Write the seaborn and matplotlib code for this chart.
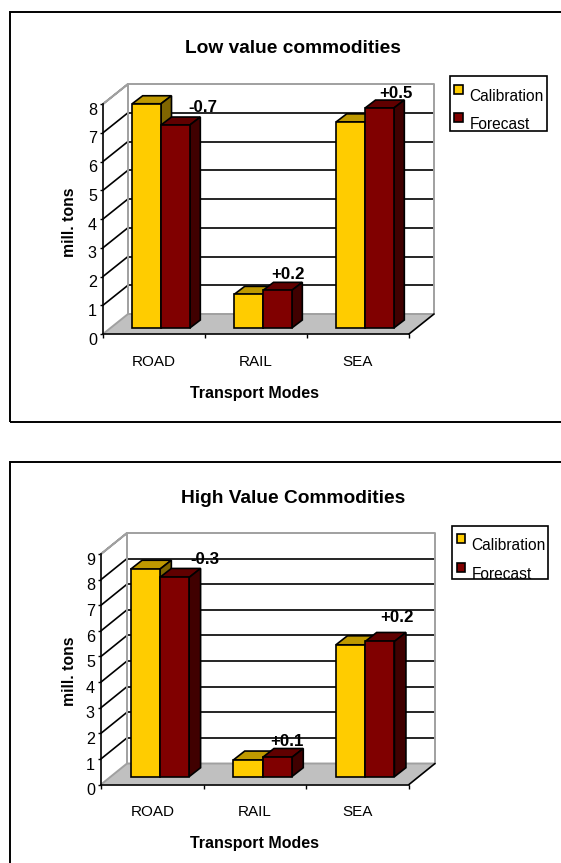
import numpy as np
import pandas as pd
import matplotlib
matplotlib.use("Agg")
import matplotlib.pyplot as plt
import seaborn as sns
from matplotlib.patches import Patch, Polygon, Rectangle
from matplotlib.legend_handler import HandlerPatch
from matplotlib.transforms import Affine2D, IdentityTransform

modes = ["ROAD", "RAIL", "SEA"]
series_names = ["Calibration", "Forecast"]

low_calibration = [7.8, 1.17, 7.17]
low_forecast = [7.06, 1.31, 7.65]
low_changes = ["-0.7", "+0.2", "+0.5"]

high_calibration = [8.1, 0.65, 5.15]
high_forecast = [7.78, 0.75, 5.28]
high_changes = ["-0.3", "+0.1", "+0.2"]

COLORS = ["#FFCC00", "#800000"]
TOPS = ["#BF9900", "#600000"]
SIDES = ["#806600", "#400000"]
GRAY = "#A0A0A0"
FLOOR = "#C0C0C0"
W, H = 561, 863
LW = 1.2

sns.set_theme(style="ticks")
plt.rcParams["font.family"] = ["Liberation Sans", "DejaVu Sans"]
plt.rcParams["text.color"] = "black"
plt.rcParams["xtick.color"] = "black"
plt.rcParams["ytick.color"] = "black"
plt.rcParams["axes.labelcolor"] = "black"

fig = plt.figure(figsize=(W / 100, H / 100), dpi=100, facecolor="white")
PX = IdentityTransform()


def disp(x, y):
    return (x, H - y)


def legend_square(legend, orig_handle, xdescent, ydescent, width, height, fontsize):
    return Rectangle((-xdescent, -ydescent + 4.9), width, width)


def chart(title, calibration, forecast, changes, geo):
    left, right, y0, ymax_px, ymax = geo["left"], geo["right"], geo["y0"], geo["ytop"], geo["ymax"]
    ax = fig.add_axes([left / W, 1 - y0 / H, (right - left) / W, (y0 - ymax_px) / H])
    df = pd.DataFrame({
        "mode": modes * 2,
        "tons": list(calibration) + list(forecast),
        "series": [series_names[0]] * 3 + [series_names[1]] * 3,
    })
    sns.barplot(data=df, x="mode", y="tons", hue="series", palette=COLORS, hue_order=series_names,
                order=modes, width=geo["barw"], gap=0, saturation=1, errorbar=None,
                edgecolor="black", linewidth=LW, legend=False, ax=ax)
    ax.set_xlim(-0.5, 2.5)
    ax.set_ylim(0, ymax)
    xu = 3 / (right - left)
    yu = ymax / (y0 - ymax_px)
    ax.patch.set_alpha(0)

    # walls and floor
    wdx, wdy = geo["depth"][0] * xu, geo["depth"][1] * yu
    ax.add_patch(Polygon([(-0.5, 0), (-0.5 + wdx, wdy), (2.5 + wdx, wdy), (2.5, 0)], closed=True,
                         facecolor=FLOOR, edgecolor="none", zorder=0.5, clip_on=False))
    for v in range(1, ymax):
        ax.plot([-0.5 + wdx, 2.5 + wdx], [v + wdy, v + wdy], color="black", lw=LW, zorder=1, clip_on=False, solid_capstyle="butt")
        ax.plot([-0.5, -0.5 + wdx], [v, v + wdy], color="black", lw=LW, zorder=1, clip_on=False)
    ax.plot([-0.5, -0.5 + wdx, -0.5 + wdx, 2.5 + wdx, 2.5 + wdx, -0.5 + wdx, -0.5],
            [ymax, ymax + wdy, wdy, wdy, ymax + wdy, ymax + wdy, ymax], color=GRAY, lw=1.4, zorder=1.2, clip_on=False)
    ax.plot([-0.5, -0.5 + wdx], [0, wdy], color=GRAY, lw=1.4, zorder=1.2, clip_on=False)
    ax.plot([2.5, 2.5 + wdx], [0, wdy], color="black", lw=LW, zorder=1.3, clip_on=False)

    # bar solids
    bdx, bdy = geo["bar_depth"][0] * xu, geo["bar_depth"][1] * yu
    sx, sy = geo["shift"][0] * xu, geo["shift"][1] * yu
    bars = [p for p in ax.patches if isinstance(p, Rectangle)]
    for i, p in enumerate(bars):
        k = i // 3
        p.set_x(p.get_x() + sx)
        p.set_y(p.get_y() + sy)
        x0, x1 = p.get_x(), p.get_x() + p.get_width()
        yb, yt = p.get_y(), p.get_y() + p.get_height()
        p.set_zorder(3.1 + k * 0.2)
        p.set_clip_on(False)
        ax.add_patch(Polygon([(x0, yt), (x0 + bdx, yt + bdy), (x1 + bdx, yt + bdy), (x1, yt)], closed=True,
                             facecolor=TOPS[k], edgecolor="black", lw=LW, zorder=3.0 + k * 0.2, clip_on=False))
        ax.add_patch(Polygon([(x1, yb), (x1 + bdx, yb + bdy), (x1 + bdx, yt + bdy), (x1, yt)], closed=True,
                             facecolor=SIDES[k], edgecolor="black", lw=LW, zorder=3.0 + k * 0.2, clip_on=False))
        if k == 1:
            off = geo["label_off"][i - 3]
            ax.annotate(changes[i - 3], xy=(x1, yt), xytext=(off[0] * 0.72, off[1] * 0.72),
                        textcoords="offset points", ha="center", va="center", fontsize=12.2,
                        fontweight="bold", color="black", zorder=2.5, annotation_clip=False)

    # axes
    sns.despine(ax=ax, top=True, right=True)
    for s in ("left", "bottom"):
        ax.spines[s].set_linewidth(LW)
        ax.spines[s].set_color("black")
        ax.spines[s].set_zorder(2)
    ax.set_yticks(range(ymax + 1))
    ax.tick_params(axis="y", length=2.2, width=1.0, pad=2.2, labelsize=11.6)
    ax.set_xticks([-0.5, 0.5, 1.5, 2.5])
    ax.set_xticklabels([])
    ax.set_xticks([0, 1, 2], labels=modes, minor=True)
    ax.tick_params(axis="x", which="major", length=3, width=1.0)
    ax.tick_params(axis="x", which="minor", length=0, pad=14.8, labelsize=11)
    for lab in ax.get_yticklabels():
        lab.set_transform(lab.get_transform() + Affine2D().translate(0, -4.7))
    ax.set_xlabel("Transport Modes", fontweight="bold", fontsize=11.5)
    ax.set_ylabel("mill. tons", fontweight="bold", fontsize=11.3)
    ax.xaxis.set_label_coords(*disp(255, geo["xlab_y"]), transform=PX)
    ax.yaxis.set_label_coords(*disp(geo["ylab_x"], geo["ylab_y"]), transform=PX)
    ax.xaxis.label.set_va("center")
    ax.yaxis.label.set_va("center")

    tx, ty = ax.transAxes.inverted().transform(disp(293, geo["title_y"]))
    ax.set_title(title, fontweight="bold", fontsize=13.8, x=tx, y=ty, va="baseline", color="black", pad=0)

    # legend
    handles = [Patch(facecolor=c, edgecolor="black", linewidth=LW) for c in COLORS]
    leg = ax.legend(handles, series_names, frameon=False, loc="upper left",
                    bbox_to_anchor=disp(*geo["leg_xy"]), bbox_transform=PX,
                    fontsize=11.2, borderpad=0, borderaxespad=0, labelspacing=geo["leg_space"],
                    handlelength=0.57, handletextpad=0.4,
                    handler_map={Patch: HandlerPatch(patch_func=legend_square)})
    leg.set_zorder(6)
    bx0, by0, bx1, by1 = geo["leg_box"]
    fig.add_artist(Rectangle((bx0 / W, 1 - by1 / H), (bx1 - bx0) / W, (by1 - by0) / H, transform=fig.transFigure,
                             facecolor="none", edgecolor="black", lw=1.2))
    # outer frame
    fx0, fy0, fx1, fy1 = geo["frame"]
    fig.add_artist(Rectangle((fx0 / W, 1 - fy1 / H), (fx1 - fx0) / W, (fy1 - fy0) / H, transform=fig.transFigure,
                             facecolor="none", edgecolor="black", lw=1.4))
    return ax


chart("Low value commodities", low_calibration, low_forecast, low_changes, dict(
    left=103, right=409, y0=334, ytop=104, ymax=8, barw=0.565, depth=(25, 20), bar_depth=(10.5, 8), shift=(7, 6),
    label_off=[(13, 18), (-4, 15.7), (2, 15)], xlab_y=393, ylab_x=70, ylab_y=222, title_y=52.5,
    leg_xy=(454.3, 89), leg_space=0.82, leg_box=(450, 76, 547, 131), frame=(10, 12, 620, 422)))

chart("High Value Commodities", high_calibration, high_forecast, high_changes, dict(
    left=101, right=409, y0=784.5, ytop=554, ymax=9, barw=0.57, depth=(26, 21), bar_depth=(11.5, 9), shift=(7.5, 7.8),
    label_off=[(16, 17.7), (-5, 16), (2.7, 24)], xlab_y=843, ylab_x=69, ylab_y=671, title_y=502.5,
    leg_xy=(456.5, 538), leg_space=0.87, leg_box=(452, 526, 548, 579), frame=(10, 462, 620, 900)))

fig.savefig("out.png", dpi=100, facecolor="white")
